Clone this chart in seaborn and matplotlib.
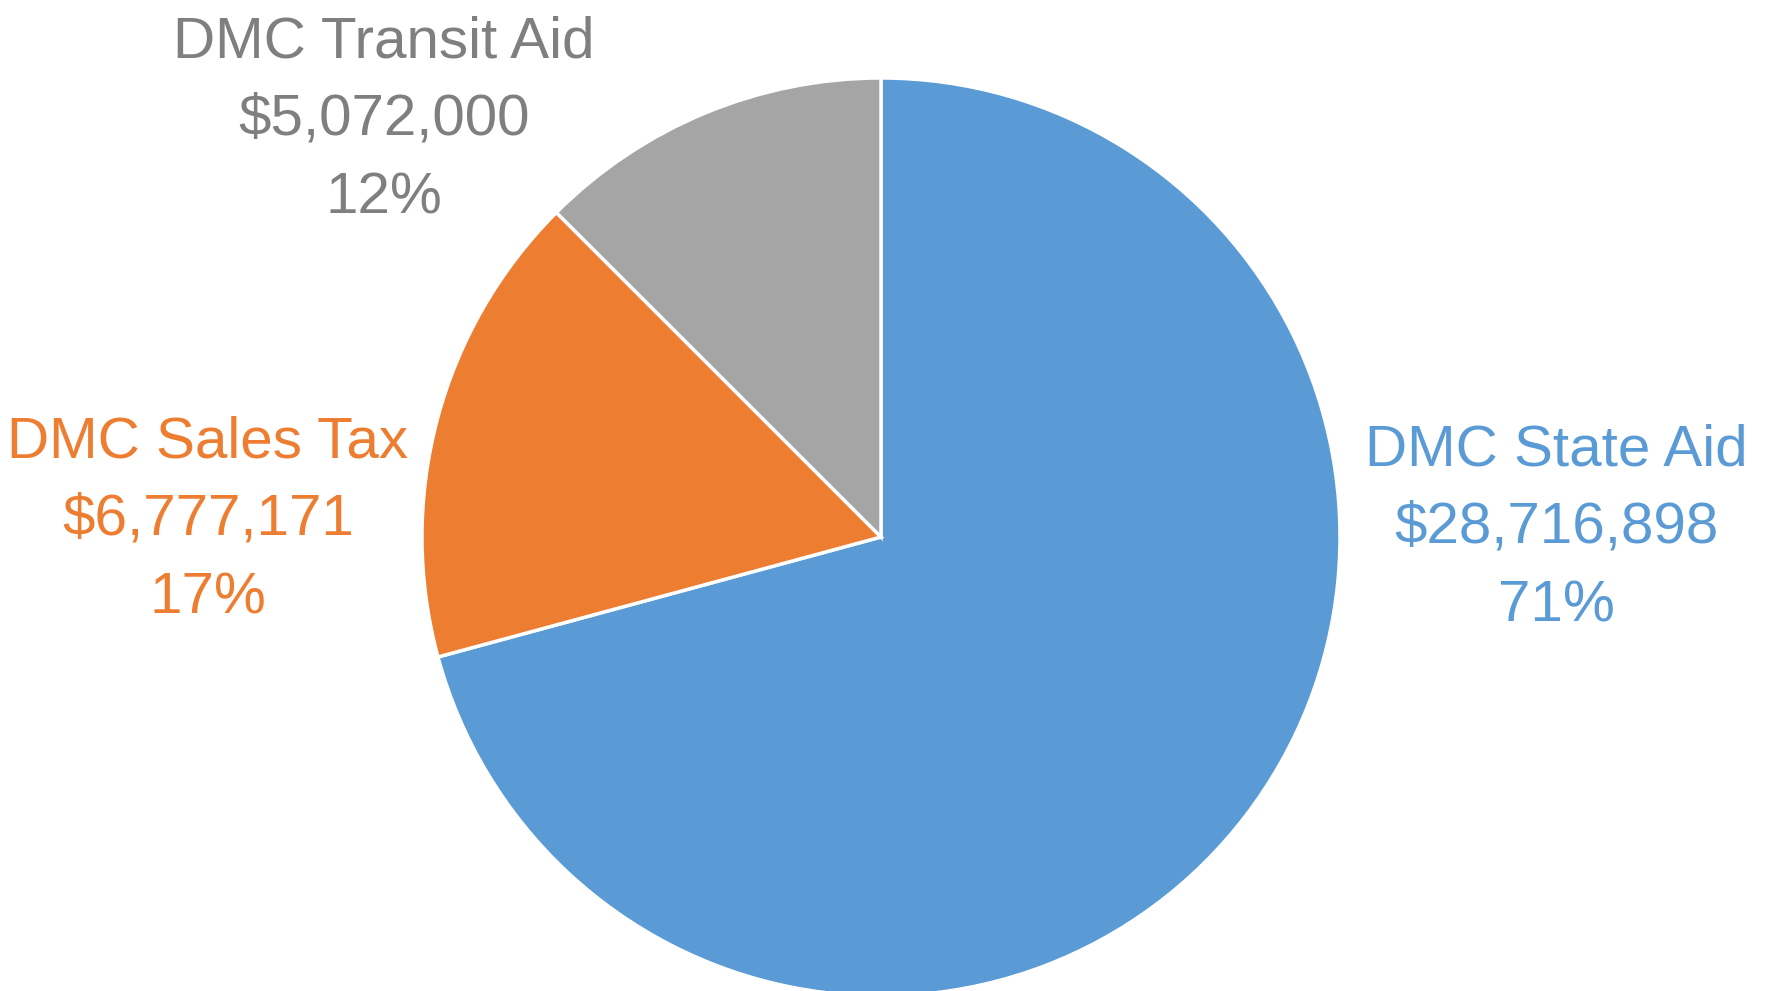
import matplotlib
matplotlib.use("Agg")
import matplotlib.pyplot as plt
import seaborn as sns

sns.set_theme(style="white")
plt.rcParams['font.family'] = ['Liberation Sans', 'DejaVu Sans']

# data
categories = ["DMC State Aid", "DMC Sales Tax", "DMC Transit Aid"]
amounts = [28716898, 6777171, 5072000]
amount_labels = ["$28,716,898", "$6,777,171", "$5,072,000"]
pct_labels = ["71%", "17%", "12%"]
slice_colors = ["#5B9BD5", "#ED7D31", "#A5A5A5"]
text_colors = ["#5B9BD5", "#ED7D31", "#7F7F7F"]

W, H = 1767, 991
fig = plt.figure(figsize=(W / 100, H / 100), dpi=100)
ax = fig.add_axes([0, 0, 1, 1])

ax.pie(amounts, colors=slice_colors, startangle=90, counterclock=False,
       center=(881, H - 537), radius=459, frame=True,
       wedgeprops=dict(edgecolor="white", linewidth=2.5))
ax.set_xlim(0, W)
ax.set_ylim(0, H)
ax.set_aspect("equal")
ax.axis("off")

# label anchors: (x centre, baseline of first line) in pixels from top-left
label_pos = [(1556, 465), (208, 457), (384, 57)]
line_gap = 78

for i, cat in enumerate(categories):
    x, y0 = label_pos[i]
    for j, txt in enumerate([cat, amount_labels[i], pct_labels[i]]):
        ax.text(x, H - (y0 + j * line_gap), txt, ha="center", va="baseline",
                fontsize=42, color=text_colors[i])

fig.savefig("out.png", dpi=100)
